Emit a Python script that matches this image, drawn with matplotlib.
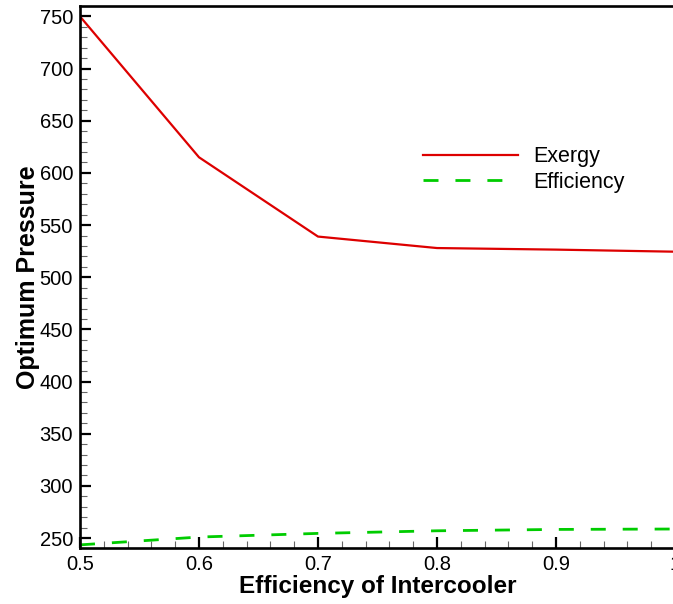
import matplotlib
matplotlib.use('Agg')
from matplotlib import pyplot as plt
from matplotlib.ticker import MultipleLocator

# intercooler efficiency vs. optimum pressure for the two objectives
efficiency = [0.5, 0.6, 0.7, 0.8, 0.9, 1.0]
exergy_pressure = [750, 615, 539, 528, 526.5, 524.5]
efficiency_pressure = [243.5, 251, 254.5, 257, 258.3, 258.7]

plt.rcParams['font.family'] = ['Liberation Sans', 'DejaVu Sans']

fig = plt.figure(figsize=(6.73, 6.04), dpi=100)
W, H = 673, 604
# axes box in pixels: left 80, right 675 (just past the edge), top 6, bottom 548
ax = fig.add_axes([80 / W, (H - 548) / H, (675 - 80) / W, (548 - 6) / H])

ax.plot(efficiency, exergy_pressure, color='#dd0000', lw=1.6, label='Exergy')
line, = ax.plot(efficiency, efficiency_pressure, color='#00cc00', lw=2.0,
                label='Efficiency')
line.set_dashes([5.4, 6.1])

ax.set_xlim(0.5, 1.0)
ax.set_ylim(240.5, 760)
ax.xaxis.set_major_locator(MultipleLocator(0.1))
ax.xaxis.set_minor_locator(MultipleLocator(0.02))
ax.yaxis.set_major_locator(MultipleLocator(50))
ax.yaxis.set_minor_locator(MultipleLocator(10))
ax.set_xticks([0.5, 0.6, 0.7, 0.8, 0.9, 1.0], ['0.5', '0.6', '0.7', '0.8', '0.9', '1'])

ax.tick_params(which='both', direction='in', top=False, right=False,
               labelsize=14.5, pad=5)
ax.tick_params(which='major', length=8, width=1.6)
ax.tick_params(which='minor', length=5, width=0.8, color='#666666')
for s in ax.spines.values():
    s.set_linewidth(1.9)

ax.set_xlabel('Efficiency of Intercooler', fontsize=17.5, fontweight='bold', labelpad=1)
ax.set_ylabel('Optimum Pressure', fontsize=18, fontweight='bold', labelpad=0)

ax.legend(loc='center left', bbox_to_anchor=((423 - 80) / 595, (548 - 169.5) / 542),
          frameon=False, fontsize=15.5, handlelength=4.4, handletextpad=0.7,
          labelspacing=0.2, borderpad=0, borderaxespad=0)

fig.savefig('out.png', dpi=100)
